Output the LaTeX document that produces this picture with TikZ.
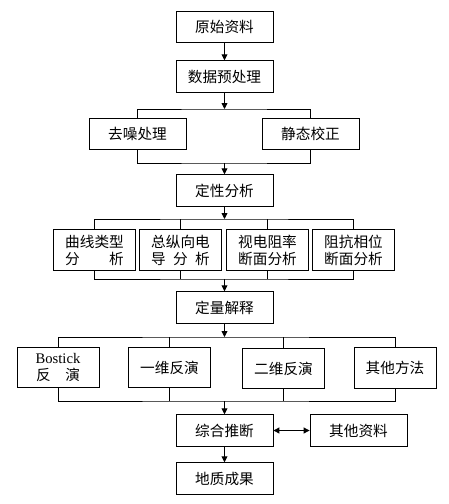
\documentclass[tikz,border=0pt]{standalone}
\usepackage{fontspec}
\setmainfont{Liberation Serif}
\newfontfamily\cjk{Noto Sans CJK SC}
\usepackage{tikz}
\usetikzlibrary{arrows.meta,positioning}

\tikzset{
  flowbox/.style={draw, line width=0.7pt, inner sep=0pt, minimum width=2.91cm,
                  minimum height=0.95cm, font=\cjk\fontsize{12.5}{14.5}\selectfont},
  rowbox/.style={flowbox, minimum width=2.46cm, minimum height=1.22cm, align=center},
  link/.style={line width=0.7pt},
  arr/.style={link, -{Triangle[length=5pt,width=5pt]}}
}

\begin{document}
\begin{tikzpicture}[x=0.03cm, y=-0.03cm]
        \useasboundingbox (0, 0) rectangle (449, 504);

        \node[flowbox](raw)  at (224.5, 27)  {原始资料};
        \node[flowbox](pre)  at (224.5, 76.5) {数据预处理};
        \node[flowbox](dn)   at (137.5, 134) {去噪处理};
        \node[flowbox](sc)   at (310.5, 134) {静态校正};
        \node[flowbox](qual) at (224.5, 190.5) {定性分析};

        \node[rowbox](a1) at ( 94.5, 250) {曲线类型\\分\hspace{2em}析};
        \node[rowbox](a2) at (180.5, 250) {总纵向电\\导\hspace{0.5em}分\hspace{0.5em}析};
        \node[rowbox](a3) at (267.5, 250) {视电阻率\\断面分析};
        \node[rowbox](a4) at (353.5, 250) {阻抗相位\\断面分析};

        \node[flowbox](quan) at (224.5, 307.5) {定量解释};

        \node[rowbox](b1) at ( 58, 367.5) {{\rmfamily Bostick}\\反\hspace{1em}演};
        \node[rowbox](b2) at (169.5, 367.5) {一维反演};
        \node[rowbox](b3) at (283.5, 368.5) {二维反演};
        \node[rowbox](b4) at (395, 368) {其他方法};

        \node[flowbox](syn) at (224.5, 430.5) {综合推断};
        \node[flowbox](oth) at (358.5, 430.5) {其他资料};
        \node[flowbox](geo) at (224.5, 478.5) {地质成果};

        % split and join points
        \coordinate(s1) at (224.5, 109);
        \coordinate(j1) at (224.5, 163);
        \coordinate(s2) at (224.5, 219);
        \coordinate(j2) at (224.5, 279);
        \coordinate(s3) at (224.5, 337);
        \coordinate(j3) at (224.5, 401);

        \draw[arr] (raw) -- (pre);
        \draw[arr] (pre) -- (s1);
        \draw[link] (dn.north) |- (s1) -| (sc.north);
        \draw[link] (dn.south) |- (j1) -| (sc.south);
        \draw[arr] (j1) -- (qual);

        \draw[arr] (qual) -- (s2);
        \draw[link] (a1.north) |- (s2) -| (a4.north)
                    (a2.north) -- (a2.north |- s2) (a3.north) -- (a3.north |- s2);
        \draw[link] (a1.south) |- (j2) -| (a4.south)
                    (a2.south) -- (a2.south |- j2) (a3.south) -- (a3.south |- j2);
        \draw[arr] (j2) -- (quan);

        \draw[arr] (quan) -- (s3);
        \draw[link] (b1.north) |- (s3) -| (b4.north)
                    (b2.north) -- (b2.north |- s3) (b3.north) -- (b3.north |- s3);
        \draw[link] (b1.south) |- (j3) -| (b4.south)
                    (b2.south) -- (b2.south |- j3) (b3.south) -- (b3.south |- j3);
        \draw[arr] (j3) -- (syn);

        \draw[link, {Triangle[length=5pt,width=5pt]}-{Triangle[length=5pt,width=5pt]}] (syn) -- (oth);
        \draw[arr] (syn) -- (geo);
      \end{tikzpicture}
\end{document}
